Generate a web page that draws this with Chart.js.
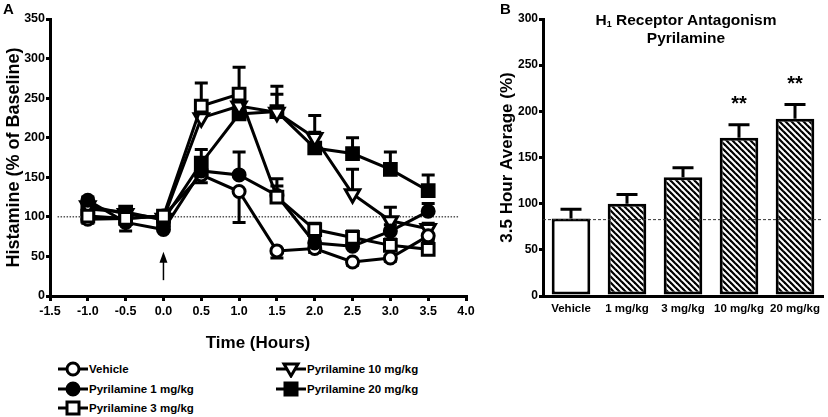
<!DOCTYPE html>
<html><head><meta charset="utf-8">
<script src="https://cdn.jsdelivr.net/npm/chart.js@4.4.1/dist/chart.umd.min.js"></script>
<style>
html,body{margin:0;padding:0;background:#fff;width:828px;height:417px;overflow:hidden;font-family:"Liberation Sans",Arial,sans-serif;}
#wrapA{position:absolute;left:0;top:0;width:480px;height:360px;}
#wrapB{position:absolute;left:496px;top:0;width:332px;height:330px;}
.panel{position:absolute;font-weight:bold;font-size:15px;color:#000;}
.leg{position:absolute;font-weight:bold;font-size:11.5px;display:flex;align-items:center;height:18px;color:#000;}
.leg svg{display:block;margin-right:1px;}
#titleB{position:absolute;left:586px;width:200px;top:11px;text-align:center;font-weight:bold;font-size:15.5px;line-height:18px;color:#000;}
#titleB sub{font-size:9px;vertical-align:-2px;line-height:0;}
</style></head><body>
<div id="wrapA"><canvas id="cA"></canvas></div>
<div id="wrapB"><canvas id="cB"></canvas></div>
<div class="panel" style="left:3px;top:0px;">A</div>
<div class="panel" style="left:500px;top:0px;">B</div>
<div id="titleB">H<sub>1</sub> Receptor Antagonism<br>Pyrilamine</div>
<div id="legend"></div>
<script>
// ---------- Panel A data ----------
const timeHours = [-1.0, -0.5, 0.0, 0.5, 1.0, 1.5, 2.0, 2.5, 3.0, 3.5];
const xTicksA = [-1.5, -1.0, -0.5, 0.0, 0.5, 1.0, 1.5, 2.0, 2.5, 3.0, 3.5, 4.0];
const yTicksA = [0, 50, 100, 150, 200, 250, 300, 350];
const seriesNames = ['Vehicle', 'Pyrilamine 1 mg/kg', 'Pyrilamine 3 mg/kg', 'Pyrilamine 10 mg/kg', 'Pyrilamine 20 mg/kg'];
const vehicle    = [97, 98, 101, 153, 132, 57, 60, 43, 48, 76];
const vehicleErr = [5, 16, 5, 10, 39, 9, 5, 4, 4, 6];
const pyr1       = [121, 93, 84, 158, 153, 127, 67, 63, 82, 107];
const pyr1Err    = [4, 5, 4, 8, 29, 12, 6, 6, 8, 10];
const pyr3       = [101, 98, 101, 240, 255, 125, 84, 74, 64, 59];
const pyr3Err    = [5, 4, 5, 29, 34, 23, 8, 8, 8, 5];
const pyr10      = [114, 104, 98, 225, 240, 232, 200, 129, 95, 85];
const pyr10Err   = [5, 5, 5, 10, 10, 33, 28, 31, 17, 7];
const pyr20      = [110, 106, 96, 168, 230, 233, 187, 180, 160, 133];
const pyr20Err   = [5, 5, 5, 17, 10, 22, 20, 20, 22, 20];
const baselineA = 100;
const arrowX = 0.0, arrowFrom = 20, arrowTo = 56;

// ---------- Panel B data ----------
const doseLabels = ['Vehicle', '1 mg/kg', '3 mg/kg', '10 mg/kg', '20 mg/kg'];
const avgValues  = [84, 100, 128.5, 171.5, 192];
const avgErr     = [10, 10, 10.5, 14, 15.5];
const sigMarks   = ['', '', '', '**', '**'];
const yTicksB = [0, 50, 100, 150, 200, 250, 300];
const baselineB = 82.7;

const FONT = '"Liberation Sans", Arial, sans-serif';
Chart.defaults.font.family = FONT;
Chart.defaults.color = '#000';

const pts = arr => timeHours.map((t, i) => ({x: t, y: arr[i]}));

const styles = [
  {style: 'circle', r: 6, fill: '#fff', rot: 0},
  {style: 'circle', r: 6, fill: '#000', rot: 0},
  {style: 'rect', r: 8.3, fill: '#fff', rot: 0},
  {style: 'triangle', r: 8.3, fill: '#fff', rot: 180},
  {style: 'rect', r: 8.3, fill: '#000', rot: 0}
];
const seriesVals = [vehicle, pyr1, pyr3, pyr10, pyr20];
const seriesErrs = [vehicleErr, pyr1Err, pyr3Err, pyr10Err, pyr20Err];
const errDirs = [-1, 1, 1, 1, 1];
const drawOrder = [2, 1, 0, 3, 4];

const datasetsA = seriesVals.map((vals, k) => ({
  label: seriesNames[k],
  data: pts(vals),
  err: seriesErrs[k],
  errDir: errDirs[k],
  borderColor: '#000',
  borderWidth: 3,
  pointStyle: styles[k].style,
  pointRadius: styles[k].r,
  pointRotation: styles[k].rot,
  pointBackgroundColor: styles[k].fill,
  pointBorderColor: '#000',
  pointBorderWidth: 3,
  tension: 0,
  order: drawOrder[k]
}));
datasetsA.push({
  label: 'baseline',
  data: [{x: -1.4, y: baselineA}, {x: 3.9, y: baselineA}],
  borderColor: '#000', borderWidth: 1, borderDash: [1.5, 1.5],
  pointRadius: 0, order: 10
});

const errPluginA = {
  id: 'errA',
  beforeDatasetsDraw(chart) {
    const ctx = chart.ctx, xs = chart.scales.x, ys = chart.scales.y;
    ctx.save();
    ctx.strokeStyle = '#000'; ctx.lineWidth = 3;
    chart.data.datasets.forEach(ds => {
      if (!ds.err) return;
      ds.data.forEach((p, i) => {
        const x = xs.getPixelForValue(p.x);
        const y0 = ys.getPixelForValue(p.y);
        const y1 = ys.getPixelForValue(p.y + ds.errDir * ds.err[i]);
        ctx.beginPath();
        ctx.moveTo(x, y0); ctx.lineTo(x, y1);
        ctx.moveTo(x - 6.5, y1); ctx.lineTo(x + 6.5, y1);
        ctx.stroke();
      });
    });
    // arrow
    const ax = xs.getPixelForValue(arrowX);
    const yb = ys.getPixelForValue(arrowFrom), yt = ys.getPixelForValue(arrowTo);
    ctx.lineWidth = 1.5;
    ctx.beginPath(); ctx.moveTo(ax, yb); ctx.lineTo(ax, yt + 8); ctx.stroke();
    ctx.fillStyle = '#000';
    ctx.beginPath(); ctx.moveTo(ax, yt); ctx.lineTo(ax - 4, yt + 11); ctx.lineTo(ax + 4, yt + 11); ctx.closePath(); ctx.fill();
    ctx.restore();
  }
};

new Chart(document.getElementById('cA'), {
  type: 'line',
  data: {datasets: datasetsA},
  options: {
    responsive: true, maintainAspectRatio: false, animation: false,
    layout: {padding: {left: 0, right: 14, top: 19, bottom: 0}},
    plugins: {legend: {display: false}, tooltip: {enabled: false}},
    scales: {
      x: {
        type: 'linear', min: -1.5, max: 4.0,
        afterBuildTicks: s => { s.ticks = xTicksA.map(v => ({value: v})); },
        afterFit: s => { s.height = 64; },
        ticks: {callback: v => Number(v).toFixed(1), font: {size: 12.5, weight: 'bold'}, padding: 3, maxRotation: 0, autoSkip: false},
        grid: {drawOnChartArea: false, drawTicks: true, tickLength: 5, lineWidth: 3, color: '#000'},
        border: {display: true, width: 3, color: '#000'},
        title: {display: true, text: 'Time (Hours)', font: {size: 17, weight: 'bold'}, padding: {top: 0, bottom: 6}}
      },
      y: {
        min: 0, max: 350,
        afterBuildTicks: s => { s.ticks = yTicksA.map(v => ({value: v})); },
        afterFit: s => { s.width = 50; },
        ticks: {font: {size: 12.5, weight: 'bold'}, padding: 1},
        grid: {drawOnChartArea: false, drawTicks: true, tickLength: 4, lineWidth: 3, color: '#000'},
        border: {display: true, width: 3, color: '#000'},
        title: {display: true, text: 'Histamine (% of Baseline)', font: {size: 18, weight: 'bold'}, padding: {top: 3, bottom: 0}}
      }
    }
  },
  plugins: [errPluginA]
});

// ---------- Legend (HTML) ----------
function markerSVG(k) {
  const s = styles[k];
  let m = '';
  if (s.style === 'circle') m = `<circle cx="15" cy="9" r="6" fill="${s.fill}" stroke="#000" stroke-width="3"/>`;
  else if (s.style === 'rect') m = `<rect x="9" y="3" width="12" height="12" fill="${s.fill}" stroke="#000" stroke-width="3"/>`;
  else m = `<polygon points="8,4 22,4 15,16" fill="${s.fill}" stroke="#000" stroke-width="3"/>`;
  return `<svg width="30" height="18"><line x1="0" y1="9" x2="30" y2="9" stroke="#000" stroke-width="3"/>${m}</svg>`;
}
const legPos = [[58, 360], [58, 380], [58, 399], [276, 360], [276, 380]];
document.getElementById('legend').innerHTML = seriesNames.map((n, k) =>
  `<div class="leg" style="left:${legPos[k][0]}px;top:${legPos[k][1]}px;">${markerSVG(k)}<span>${n}</span></div>`).join('');

// ---------- Panel B ----------
function hatch() {
  const p = 6, c = document.createElement('canvas');
  c.width = p; c.height = p;
  const g = c.getContext('2d');
  g.fillStyle = '#fff'; g.fillRect(0, 0, p, p);
  g.strokeStyle = '#000'; g.lineWidth = 2.2;
  for (const o of [-p, 0, p]) { g.beginPath(); g.moveTo(-1, -1 + o); g.lineTo(p + 1, p + 1 + o); g.stroke(); }
  return document.getElementById('cB').getContext('2d').createPattern(c, 'repeat');
}
const hp = hatch();

const pluginB = {
  id: 'extraB',
  afterDatasetsDraw(chart) {
    const ctx = chart.ctx, xs = chart.scales.x, ys = chart.scales.y;
    ctx.save();
    ctx.strokeStyle = '#000'; ctx.lineWidth = 3;
    avgValues.forEach((v, i) => {
      const x = xs.getPixelForValue(i);
      const y0 = ys.getPixelForValue(v), y1 = ys.getPixelForValue(v + avgErr[i]);
      ctx.beginPath();
      ctx.moveTo(x, y0); ctx.lineTo(x, y1);
      ctx.moveTo(x - 10.5, y1); ctx.lineTo(x + 10.5, y1);
      ctx.stroke();
      if (sigMarks[i]) {
        ctx.fillStyle = '#000';
        ctx.font = 'bold 20px ' + FONT;
        ctx.textAlign = 'center'; ctx.textBaseline = 'middle';
        ctx.fillText(sigMarks[i], x, y1 - 20);
      }
    });
    const yb = ys.getPixelForValue(baselineB);
    ctx.lineWidth = 1; ctx.strokeStyle = '#333'; ctx.setLineDash([3, 2]);
    ctx.beginPath(); ctx.moveTo(chart.chartArea.left, yb); ctx.lineTo(chart.chartArea.right, yb); ctx.stroke();
    ctx.restore();
  }
};

new Chart(document.getElementById('cB'), {
  type: 'bar',
  data: {
    labels: doseLabels,
    datasets: [{
      data: avgValues,
      backgroundColor: avgValues.map((v, i) => i === 0 ? '#fff' : hp),
      borderColor: '#000', borderWidth: 3, borderSkipped: false,
      barPercentage: 0.69, categoryPercentage: 1.0
    }]
  },
  options: {
    responsive: true, maintainAspectRatio: false, animation: false,
    layout: {padding: {left: 0, right: 5, top: 19, bottom: 0}},
    plugins: {legend: {display: false}, tooltip: {enabled: false}},
    scales: {
      x: {
        afterFit: s => { s.height = 34; },
        ticks: {font: {size: 11.5, weight: 'bold'}, padding: 6, maxRotation: 0, autoSkip: false},
        grid: {display: true, drawOnChartArea: false, drawTicks: false, color: '#000'},
        border: {display: true, width: 3, color: '#000'}
      },
      y: {
        min: 0, max: 300,
        afterBuildTicks: s => { s.ticks = yTicksB.map(v => ({value: v})); },
        afterFit: s => { s.width = 47; },
        ticks: {font: {size: 12, weight: 'bold'}, padding: 1},
        grid: {drawOnChartArea: false, drawTicks: true, tickLength: 4, lineWidth: 3, color: '#000'},
        border: {display: true, width: 3, color: '#000'},
        title: {display: true, text: '3.5 Hour Average (%)', font: {size: 17, weight: 'bold'}, padding: {top: 1, bottom: 0}}
      }
    }
  },
  plugins: [pluginB]
});
</script>
</body></html>
